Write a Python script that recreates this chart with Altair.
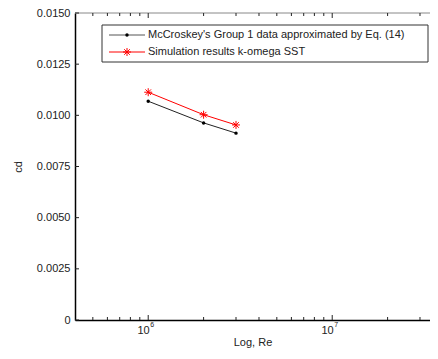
import math
import altair as alt
import pandas as pd

# ---- data ----
re_values = [1.0e6, 2.0e6, 3.0e6]
cd_mccroskey = [0.01069, 0.00963, 0.00913]
cd_simulation = [0.01113, 0.01003, 0.00953]
series_names = [
    "McCroskey's Group 1 data approximated by Eq. (14)",
    "Simulation results k-omega SST",
]
y_tick_values = [0, 0.0025, 0.005, 0.0075, 0.01, 0.0125, 0.015]
x_major_ticks = [1e6, 1e7]
x_minor_ticks = [5e5, 6e5, 7e5, 8e5, 9e5,
                 2e6, 3e6, 4e6, 5e6, 6e6, 7e6, 8e6, 9e6,
                 2e7, 3e7]

W, H = 355, 307
FONT = "Liberation Sans"
TXT = "#222222"

xscale = alt.Scale(type="log", domain=[4e5, 3.4e7], nice=False)
yscale = alt.Scale(domain=[0, 0.015], nice=False, zero=False)

df_m = pd.DataFrame({"re": re_values, "cd": cd_mccroskey})
df_s = pd.DataFrame({"re": re_values, "cd": cd_simulation})

xaxis = alt.Axis(
    values=x_major_ticks, labelExpr="'10'", labelAlign="right", labelOffset=1,
    ticks=False, grid=False, labelPadding=4, labelFontSize=11, labelFont=FONT,
    labelColor=TXT, title="Log, Re", titleFont=FONT, titleFontSize=11,
    titleFontWeight="normal", titleColor=TXT, titlePadding=1,
    domainColor="#000000", domainWidth=1.5, labelOverlap=False, labelFlush=False,
)
yaxis = alt.Axis(
    values=y_tick_values,
    labelExpr="datum.value == 0 ? '0' : format(datum.value, '.4f')",
    ticks=False, grid=False, labelPadding=5, labelFontSize=11, labelFont=FONT,
    labelColor=TXT, title="cd", titleFont=FONT, titleFontSize=11,
    titleFontWeight="normal", titleColor=TXT, titlePadding=13,
    domainColor="#000000", domainWidth=1.5, labelOverlap=False, labelFlush=False,
)

def X(f):
    return alt.X(f, scale=xscale, axis=xaxis)

def Y(f):
    return alt.Y(f, scale=yscale, axis=yaxis)

line_m = alt.Chart(df_m).mark_line(color="#222222", strokeWidth=1).encode(
    x=X("re:Q"), y=Y("cd:Q"))
pts_m = alt.Chart(df_m).mark_point(filled=True, color="#000000", size=12, opacity=1).encode(
    x=X("re:Q"), y=Y("cd:Q"))
ASTER = "M-1,0L1,0M0,-1L0,1M-0.7,-0.7L0.7,0.7M-0.7,0.7L0.7,-0.7"
line_s = alt.Chart(df_s).mark_line(color="#ff0000", strokeWidth=1).encode(
    x=X("re:Q"), y=Y("cd:Q"))
pts_s = alt.Chart(df_s).mark_point(shape=ASTER, filled=False, color="#ff0000",
                                   size=64, strokeWidth=1, opacity=1).encode(
    x=X("re:Q"), y=Y("cd:Q"))

# ---- inward ticks ----
def xticks(vals, y0, y1):
    return alt.Chart(pd.DataFrame({"re": vals})).mark_rule(color="#222222", strokeWidth=1).encode(
        x=X("re:Q"), y=alt.value(y0), y2=alt.value(y1))

tick_layers = [
    xticks(x_minor_ticks, H, H - 3), xticks(x_major_ticks, H, H - 5),
    xticks(x_minor_ticks, 0, 3), xticks(x_major_ticks, 0, 5),
    alt.Chart(pd.DataFrame({"cd": y_tick_values})).mark_rule(color="#222222", strokeWidth=1).encode(
        y=Y("cd:Q"), x=alt.value(0), x2=alt.value(4)),
]
top_line = alt.Chart(pd.DataFrame({"a": [0]})).mark_rule(color="#888888", strokeWidth=1).encode(
    x=alt.value(0), x2=alt.value(W), y=alt.value(0))

exp_df = pd.DataFrame({"re": x_major_ticks,
                       "e": [str(int(round(math.log10(v)))) for v in x_major_ticks]})
exponents = alt.Chart(exp_df).mark_text(font=FONT, fontSize=7, color=TXT, align="left",
                                        baseline="alphabetic", dx=2).encode(
    x=X("re:Q"), y=alt.value(H + 7), text="e:N")

# ---- legend box ----
one = pd.DataFrame({"a": [0]})
LX0, LX1, LY0, LY1 = 27, 353, 12, 49
ROWS = [22, 39]
SX0, SX1, SXM, TX = 34, 70, 52, 73
legend_layers = [
    alt.Chart(one).mark_rect(fill="white", stroke="#333333", strokeWidth=1).encode(
        x=alt.value(LX0), x2=alt.value(LX1), y=alt.value(LY0), y2=alt.value(LY1)),
    alt.Chart(one).mark_rule(color="#555555", strokeWidth=1).encode(
        x=alt.value(SX0), x2=alt.value(SX1), y=alt.value(ROWS[0])),
    alt.Chart(one).mark_point(filled=True, color="#000000", size=12, opacity=1).encode(
        x=alt.value(SXM), y=alt.value(ROWS[0])),
    alt.Chart(one).mark_rule(color="#ff0000", strokeWidth=1).encode(
        x=alt.value(SX0), x2=alt.value(SX1), y=alt.value(ROWS[1])),
    alt.Chart(one).mark_point(shape=ASTER, filled=False, color="#ff0000", size=64,
                              strokeWidth=1, opacity=1).encode(
        x=alt.value(SXM), y=alt.value(ROWS[1])),
]
for i, name in enumerate(series_names):
    legend_layers.append(
        alt.Chart(one).mark_text(font=FONT, fontSize=11, color=TXT, align="left",
                                 baseline="middle").encode(
            x=alt.value(TX), y=alt.value(ROWS[i]), text=alt.value(name)))

chart = alt.layer(
    line_m, top_line, *tick_layers, exponents, line_s, pts_s, pts_m, *legend_layers
).properties(
    width=W, height=H,
    autosize=alt.AutoSizeParams(type="none"),
    padding={"left": 67, "top": 5, "right": 0, "bottom": 31},
).configure_view(stroke=None)

chart.save("out.html", embed_options={"renderer": "svg", "actions": False})
